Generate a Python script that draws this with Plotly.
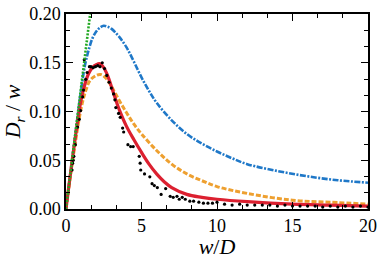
import plotly.graph_objects as go

# Green dotted reference line (initial slope)
green_x = [0.0, 2.0]
green_y = [0.0, 0.25]

# Blue dash-dot curve
blue_x = [0, 0.5, 1.0, 1.25, 1.5, 1.75, 2.0, 2.25, 2.5, 2.75, 3.0, 3.5, 4.0, 4.5, 5.0, 5.5, 6.0, 7.0, 8.0, 9.0, 10.0, 11.0, 12.0, 14.0, 16.0, 18.0, 20.0]
blue_y = [0, 0.062, 0.122, 0.147, 0.163, 0.175, 0.182, 0.186, 0.188, 0.187, 0.185, 0.177, 0.166, 0.151, 0.135, 0.121, 0.109, 0.091, 0.077, 0.067, 0.059, 0.052, 0.046, 0.039, 0.0335, 0.0295, 0.027]

# Orange dashed curve
orange_x = [0, 0.5, 1.0, 1.3, 1.6, 2.0, 2.3, 2.6, 3.0, 3.5, 4.0, 4.5, 5.0, 6.0, 7.0, 8.0, 9.0, 10.0, 12.0, 15.0, 17.5, 20.0]
orange_y = [0, 0.056, 0.103, 0.121, 0.132, 0.137, 0.138, 0.135, 0.126, 0.112, 0.099, 0.087, 0.077, 0.060, 0.046, 0.036, 0.029, 0.023, 0.016, 0.009, 0.007, 0.005]

# Red solid curve
red_x = [0, 0.5, 1.0, 1.25, 1.5, 1.75, 2.0, 2.25, 2.5, 2.75, 3.0, 3.25, 3.5, 4.0, 4.5, 5.0, 5.5, 6.0, 6.5, 7.0, 8.0, 9.0, 10.0, 12.0, 15.0, 17.5, 20.0]
red_y = [0, 0.060, 0.112, 0.128, 0.139, 0.145, 0.148, 0.149, 0.145, 0.137, 0.126, 0.114, 0.103, 0.085, 0.071, 0.058, 0.046, 0.036, 0.028, 0.022, 0.015, 0.012, 0.010, 0.0075, 0.005, 0.004, 0.003]

# Black data points
dots_x = [0.40, 0.44, 0.48, 0.52, 0.62, 0.77, 0.88, 0.97, 1.10, 1.16, 1.21, 1.30, 1.40, 1.55, 1.65, 1.80, 1.95, 2.10, 2.25, 2.40,
          2.55, 2.70, 2.85, 3.00, 3.15, 3.24, 3.30, 3.48, 3.59, 3.75, 3.82, 4.10, 4.28, 4.45, 4.85, 4.91, 4.95, 5.20, 5.55, 5.70,
          5.85, 6.05, 6.30, 6.60, 6.90, 7.10, 7.35, 7.50, 7.70, 7.90, 8.20, 8.45, 8.80, 9.10, 9.40, 9.70, 10.0, 10.5, 11.0, 11.5,
          12.0, 12.5, 13.0, 13.5, 14.0, 14.5, 15.0, 15.5, 16.0, 16.5, 17.0, 17.5, 18.0, 18.5, 19.0, 19.5, 20.0]
dots_y = [0.040, 0.047, 0.050, 0.054, 0.066, 0.084, 0.092, 0.101, 0.115, 0.122, 0.153, 0.133, 0.140, 0.146, 0.146, 0.145, 0.146, 0.147, 0.146, 0.150,
          0.144, 0.137, 0.130, 0.124, 0.118, 0.112, 0.104, 0.098, 0.094, 0.083, 0.079, 0.066, 0.064, 0.064, 0.054, 0.047, 0.040, 0.036, 0.033, 0.026,
          0.024, 0.022, 0.015, 0.021, 0.013, 0.012, 0.013, 0.010, 0.012, 0.010, 0.008, 0.008, 0.007, 0.006, 0.006, 0.006, 0.007, 0.005, 0.004, 0.005,
          0.004, 0.004, 0.004, 0.004, 0.003, 0.004, 0.003, 0.003, 0.003, 0.003, 0.002, 0.003, 0.002, 0.003, 0.002, 0.003, 0.002]

x_ticks = [0, 5, 10, 15, 20]
y_ticks = [0.00, 0.05, 0.10, 0.15, 0.20]

fig = go.Figure()
fig.add_trace(go.Scatter(x=blue_x, y=blue_y, mode="lines", line=dict(color="#1f78c8", width=2.6, dash="6px,1.5px,2px,1.5px"), line_shape="spline"))
fig.add_trace(go.Scatter(x=orange_x, y=orange_y, mode="lines", line=dict(color="#eea030", width=3, dash="5px,2px"), line_shape="spline"))
fig.add_trace(go.Scatter(x=red_x, y=red_y, mode="lines", line=dict(color="#dc2030", width=3.2), line_shape="spline"))
fig.add_trace(go.Scatter(x=dots_x, y=dots_y, mode="markers", marker=dict(color="black", size=3.2)))
fig.add_trace(go.Scatter(x=green_x, y=green_y, mode="lines", line=dict(color="#22a822", width=2.6, dash="2px,1.5px")))

font_family = "Liberation Serif, DejaVu Serif, serif"
fig.update_layout(
    width=382, height=259,
    margin=dict(l=66, r=14, t=14, b=50),
    paper_bgcolor="white", plot_bgcolor="white",
    showlegend=False,
    font=dict(family=font_family, size=18, color="black"),
)
fig.update_xaxes(
    range=[0, 20], tickvals=x_ticks, ticktext=[str(v) for v in x_ticks],
    showline=True, linecolor="black", linewidth=1.5, mirror="allticks",
    ticks="inside", ticklen=7, tickwidth=1.2, tickcolor="black",
    minor=dict(ticks="inside", ticklen=4, dtick=5/3, tick0=0, tickcolor="black", tickwidth=1),
    showgrid=False, zeroline=False, automargin=False,
    title=dict(text="<i>w</i>/<i>D</i>", font=dict(size=22), standoff=8),
)
fig.update_yaxes(
    range=[0, 0.20], tickvals=y_ticks, ticktext=[f"{v:.2f}" for v in y_ticks],
    showline=True, linecolor="black", linewidth=1.5, mirror="allticks",
    ticks="inside", ticklen=7, tickwidth=1.2, tickcolor="black",
    minor=dict(ticks="inside", ticklen=4, dtick=0.05/3, tick0=0, tickcolor="black", tickwidth=1),
    showgrid=False, zeroline=False, automargin=False,
    title=dict(text="<i>D</i><sub><i>r</i></sub> / <i>w</i>", font=dict(size=22), standoff=6),
)
fig.write_html("out.html", config={"displayModeBar": False},
               post_script="document.body.style.margin='0';document.body.style.overflow='hidden';")
